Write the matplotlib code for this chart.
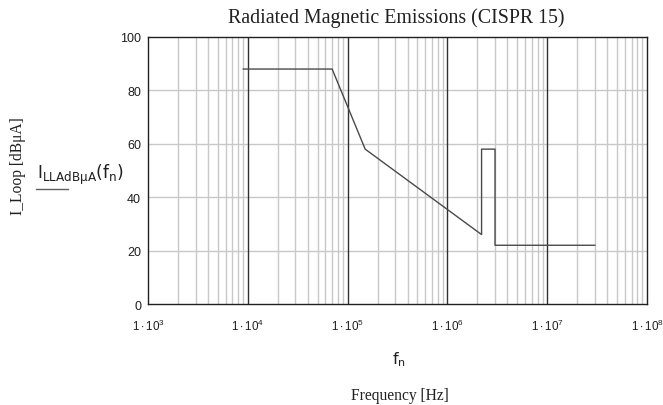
import numpy as np
import matplotlib
matplotlib.use("Agg")
import matplotlib.pyplot as plt

# Data: CISPR 15 loop limit curve
freq_hz = [9e3, 70e3, 150e3, 2.2e6, 2.2e6, 3e6, 3e6, 30e6]
level_dbua = [88, 88, 58, 26, 58, 58, 22, 22]
yticks = [0, 20, 40, 60, 80, 100]
xdecades = [3, 4, 5, 6, 7, 8]

plt.rcParams['mathtext.fontset'] = 'custom'
plt.rcParams['mathtext.rm'] = 'Liberation Sans'
plt.rcParams['mathtext.it'] = 'Liberation Sans'

fig = plt.figure(figsize=(6.63, 4.06), dpi=100)
ax = fig.add_axes([148/663, 1-305/406, 499/663, 267/406])

ax.set_xscale('log')
ax.set_xlim(1e3, 1e8)
ax.set_ylim(0, 100)

# grid
for d in xdecades[:-1]:
    for m in range(2, 10):
        ax.axvline(m * 10**d, color='#c8c8c8', lw=1.0, zorder=1)
for d in xdecades[1:-1]:
    ax.axvline(10**d, color='#303030', lw=1.0, zorder=2)
for y in yticks[1:-1]:
    ax.axhline(y, color='#c8c8c8', lw=1.0, zorder=1)

ax.plot(freq_hz, level_dbua, color='#4a4a4a', lw=1.0, zorder=3)

ax.set_xticks([10**d for d in xdecades])
ax.set_xticklabels([r'$1\cdot10^{%d}$' % d for d in xdecades], fontsize=8.4, color='#202020')
ax.xaxis.set_minor_locator(matplotlib.ticker.NullLocator())
ax.set_yticks(yticks)
ax.set_yticklabels([str(v) for v in yticks], fontsize=9, family='Liberation Sans', color='#202020')
ax.tick_params(length=0, pad=5)
ax.tick_params(axis='x', pad=10)
for s in ax.spines.values():
    s.set_color('#202020')
    s.set_linewidth(1.0)

fig.text(396/663, 1-18/406, 'Radiated Magnetic Emissions (CISPR 15)', ha='center', va='center',
         family='Liberation Serif', fontsize=14.3, color='#202020')
fig.text(18/663, 1-166/406, 'I_Loop [dBμA]', rotation=90, ha='center', va='center',
         family='Liberation Serif', fontsize=11.2, color='#202020')
fig.text(37/663, 1-175/406, r'$\mathregular{I_{LLAdB\mu A}(f_n)}$', ha='left', va='center',
         fontsize=12.3, color='#202020')
fig.add_artist(plt.Line2D([36/663, 68/663], [1-190/406, 1-190/406], color='#606060', lw=1.0))
fig.text(399/663, 1-360/406, r'$\mathregular{f_n}$', ha='center', va='center',
         fontsize=11.5, color='#202020')
fig.text(400/663, 1-396/406, 'Frequency [Hz]', ha='center', va='center',
         family='Liberation Serif', fontsize=11.2, color='#202020')

fig.savefig('out.png', dpi=100)
